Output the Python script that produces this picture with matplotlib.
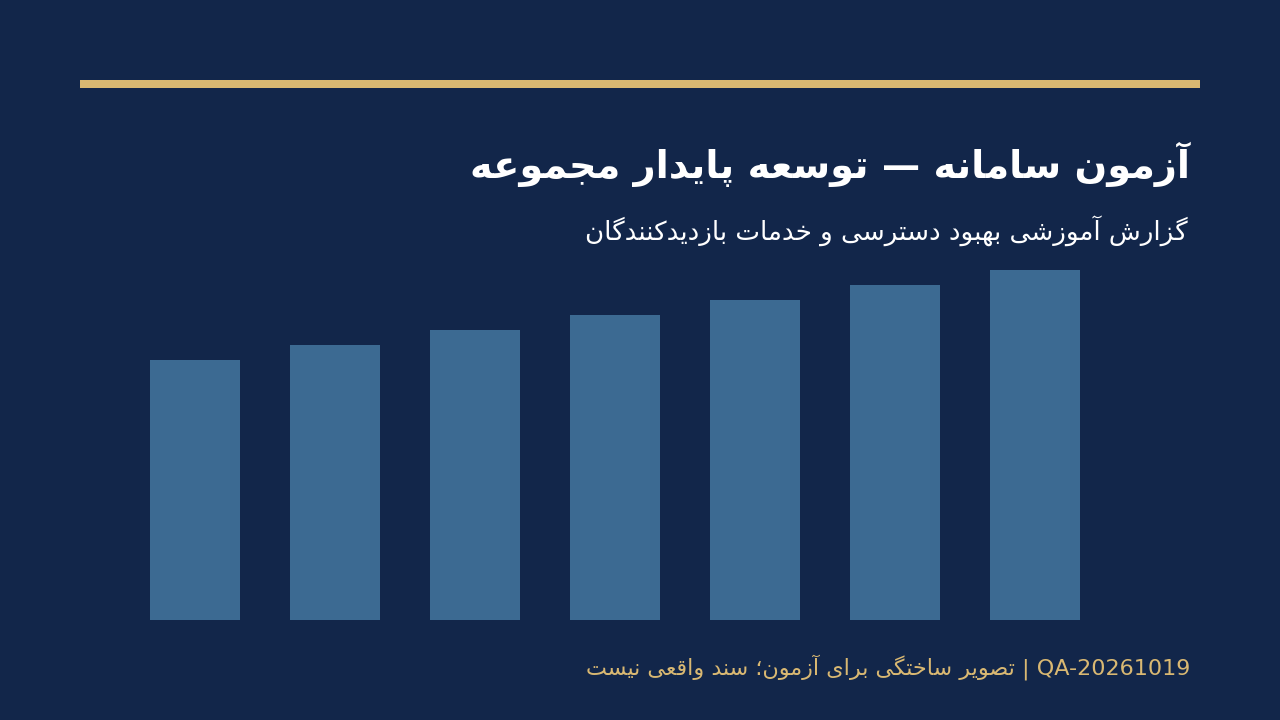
import matplotlib.pyplot as plt

# Persian letters -> (isolated, final, initial, medial); None = no forward joining
FORMS = {
    'ا': ('\uFE8D', '\uFE8E', None, None),
    'آ': ('\uFE81', '\uFE82', None, None),
    'ب': ('\uFE8F', '\uFE90', '\uFE91', '\uFE92'),
    'پ': ('\uFB56', '\uFB57', '\uFB58', '\uFB59'),
    'ت': ('\uFE95', '\uFE96', '\uFE97', '\uFE98'),
    'ج': ('\uFE9D', '\uFE9E', '\uFE9F', '\uFEA0'),
    'خ': ('\uFEA5', '\uFEA6', '\uFEA7', '\uFEA8'),
    'د': ('\uFEA9', '\uFEAA', None, None),
    'ر': ('\uFEAD', '\uFEAE', None, None),
    'ز': ('\uFEAF', '\uFEB0', None, None),
    'س': ('\uFEB1', '\uFEB2', '\uFEB3', '\uFEB4'),
    'ش': ('\uFEB5', '\uFEB6', '\uFEB7', '\uFEB8'),
    'ص': ('\uFEB9', '\uFEBA', '\uFEBB', '\uFEBC'),
    'ع': ('\uFEC9', '\uFECA', '\uFECB', '\uFECC'),
    'ق': ('\uFED5', '\uFED6', '\uFED7', '\uFED8'),
    'ک': ('\uFB8E', '\uFB8F', '\uFB90', '\uFB91'),
    'گ': ('\uFB92', '\uFB93', '\uFB94', '\uFB95'),
    'ل': ('\uFEDD', '\uFEDE', '\uFEDF', '\uFEE0'),
    'م': ('\uFEE1', '\uFEE2', '\uFEE3', '\uFEE4'),
    'ن': ('\uFEE5', '\uFEE6', '\uFEE7', '\uFEE8'),
    'و': ('\uFEED', '\uFEEE', None, None),
    'ه': ('\uFEE9', '\uFEEA', '\uFEEB', '\uFEEC'),
    'ی': ('\uFBFC', '\uFBFD', '\uFBFE', '\uFBFF'),
}


def rtl(text):
    out = []
    for i, c in enumerate(text):
        if c not in FORMS:
            out.append(c)
            continue
        f = FORMS[c]
        prev = text[i - 1] if i > 0 else ''
        nxt = text[i + 1] if i < len(text) - 1 else ''
        jp = prev in FORMS and FORMS[prev][2] is not None
        jn = nxt in FORMS and f[2] is not None
        if jp and jn:
            out.append(f[3])
        elif jp:
            out.append(f[1])
        elif jn:
            out.append(f[2])
        else:
            out.append(f[0])
    return ''.join(out)[::-1]


title = "آزمون سامانه — توسعه پایدار مجموعه"
subtitle = "گزارش آموزشی بهبود دسترسی و خدمات بازدیدکنندگان"
footer_fa = "تصویر ساختگی برای آزمون؛ سند واقعی نیست"
footer_code = "QA-20261019"

categories = ['1', '2', '3', '4', '5', '6', '7']
values = [52, 55, 58, 61, 64, 67, 70]

bg = '#12264A'
gold = '#D9B872'
bar_color = '#3C6A92'

plt.rcParams['font.family'] = ['DejaVu Sans']

fig = plt.figure(figsize=(12.8, 7.2), dpi=100)
fig.patch.set_facecolor(bg)

# gold rule at the top
fig.add_artist(plt.Rectangle((80 / 1280, 1 - 88 / 720), 1120 / 1280, 8 / 720,
                             transform=fig.transFigure, color=gold, lw=0))

fig.text(1190 / 1280, 1 - 178 / 720, rtl(title), ha='right', va='baseline',
         fontsize=27.5, fontweight='bold', color='white')
fig.text(1188 / 1280, 1 - 240 / 720, rtl(subtitle), ha='right', va='baseline',
         fontsize=18.8, color='white')
# RTL line: the code comes first, so it sits at the right end
fig.text(1190 / 1280, 1 - 675 / 720, rtl(footer_fa) + " | " + footer_code,
         ha='right', va='baseline', fontsize=16, color=gold)

ax = fig.add_axes([125 / 1280, 100 / 720, 980 / 1280, 350 / 720])
ax.set_facecolor(bg)
ax.bar(range(len(categories)), values, width=90 / 140, color=bar_color)
ax.set_xlim(-0.5, len(categories) - 0.5)
ax.set_ylim(0, 70)
ax.axis('off')

fig.savefig('out.png', dpi=100, facecolor=bg)
